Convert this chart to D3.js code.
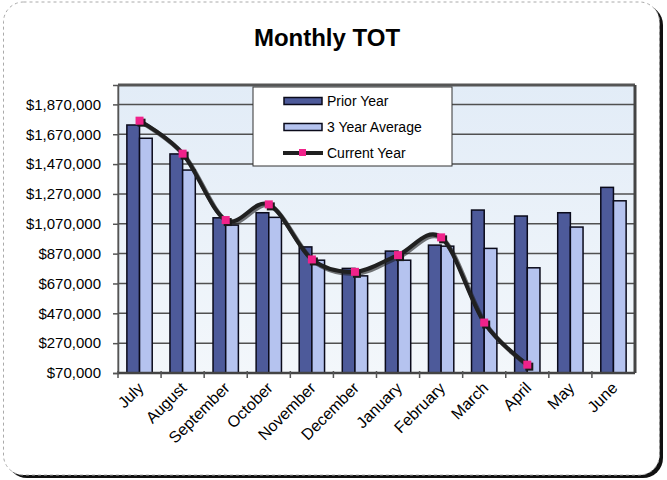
<!DOCTYPE html>
<html>
<head>
<meta charset="utf-8">
<script src="https://cdn.jsdelivr.net/npm/d3@7"></script>
<style>
  html, body { margin: 0; padding: 0; background: #ffffff; }
  svg { display: block; }
  text { font-family: "Liberation Sans", Arial, Helvetica, sans-serif; fill: #000; }
</style>
</head>
<body>
<svg id="chart" width="667" height="480"></svg>
<script>
// ---- data ----
const months = ["July","August","September","October","November","December","January","February","March","April","May","June"];
const priorYear = [1732000,1538000,1110000,1144000,915000,771000,887000,927000,1162000,1122000,1144000,1314000];
const threeYearAvg = [1643000,1430000,1061000,1113000,826000,721000,826000,920000,905000,775000,1048000,1224000];
const currentYear = [1761000,1540000,1095000,1200000,831000,748000,860000,979000,408000,126000,null,null];
const yTicks = [70000,270000,470000,670000,870000,1070000,1270000,1470000,1670000,1870000];
const seriesNames = ["Prior Year","3 Year Average","Current Year"];

// ---- setup ----
const svg = d3.select("#chart");
const plot = {left: 118, right: 635, top: 85, bottom: 373};

// outer frame: shadow + dashed border
svg.append("rect").attr("x", 7).attr("y", 5).attr("width", 656).attr("height", 473)
  .attr("rx", 20).attr("fill", "#111");
svg.append("rect").attr("x", 3.5).attr("y", 2).attr("width", 656).attr("height", 473)
  .attr("rx", 20).attr("fill", "#fff").attr("stroke", "#aaa").attr("stroke-width", 1)
  .attr("stroke-dasharray", "3,3");

// title
svg.append("text").attr("x", 327).attr("y", 46).attr("text-anchor", "middle")
  .style("font-size", "24px").style("font-weight", "bold").text("Monthly TOT");

// scales
const x = d3.scaleBand().domain(months).range([plot.left, plot.right]).padding(0);
const x1 = d3.scaleBand().domain(seriesNames.slice(0, 2)).range([0, x.bandwidth()])
  .paddingInner(0).paddingOuter(0.7);
const y = d3.scaleLinear().domain([70000, 2000000]).range([plot.bottom, plot.top]);

// plot background
const defs = svg.append("defs");
const grad = defs.append("linearGradient").attr("id", "bg").attr("x1", 0).attr("y1", 0).attr("x2", 0).attr("y2", 1);
grad.append("stop").attr("offset", "0%").attr("stop-color", "#e2ecf7");
grad.append("stop").attr("offset", "100%").attr("stop-color", "#f3f7fb");
svg.append("rect").attr("x", plot.left).attr("y", plot.top)
  .attr("width", plot.right - plot.left).attr("height", plot.bottom - plot.top)
  .attr("fill", "url(#bg)");

// gridlines
svg.append("g").selectAll("line").data(yTicks.slice(1)).join("line")
  .attr("x1", plot.left).attr("x2", plot.right)
  .attr("y1", d => y(d)).attr("y2", d => y(d))
  .attr("stroke", "#505050").attr("stroke-width", 1.5);

// plot borders
svg.append("line").attr("x1", plot.left).attr("x2", plot.right).attr("y1", plot.top).attr("y2", plot.top)
  .attr("stroke", "#555").attr("stroke-width", 3);
svg.append("line").attr("x1", plot.right).attr("x2", plot.right).attr("y1", plot.top).attr("y2", plot.bottom)
  .attr("stroke", "#444").attr("stroke-width", 3);
svg.append("line").attr("x1", plot.left).attr("x2", plot.left).attr("y1", plot.top).attr("y2", plot.bottom)
  .attr("stroke", "#888").attr("stroke-width", 1.5);

// bars
const colors = {"Prior Year": "#4d5a9a", "3 Year Average": "#b5c3ef"};
const barData = [];
months.forEach((m, i) => {
  barData.push({m, s: "Prior Year", v: priorYear[i]});
  barData.push({m, s: "3 Year Average", v: threeYearAvg[i]});
});
svg.append("g").selectAll("rect").data(barData).join("rect")
  .attr("x", d => x(d.m) + x1(d.s))
  .attr("width", x1.bandwidth())
  .attr("y", d => y(d.v))
  .attr("height", d => y(70000) - y(d.v))
  .attr("fill", d => colors[d.s])
  .attr("stroke", "#0a0a1a").attr("stroke-width", 1.5);

// axes
const yAxis = d3.axisLeft(y).tickValues(yTicks).tickSize(5).tickPadding(12)
  .tickFormat(d => "$" + d3.format(",")(d));
const gy = svg.append("g").attr("transform", `translate(${plot.left},0)`).call(yAxis);
gy.select(".domain").attr("stroke", "#555").attr("stroke-width", 1.5);
gy.selectAll(".tick line").attr("stroke", "#555").attr("stroke-width", 1.5);
gy.selectAll(".tick text").style("font-size", "15px");

// x axis line + ticks between categories
svg.append("line").attr("x1", plot.left).attr("x2", plot.right).attr("y1", plot.bottom).attr("y2", plot.bottom)
  .attr("stroke", "#444").attr("stroke-width", 2.5);
svg.append("g").selectAll("line").data(months).join("line")
  .attr("x1", d => x(d)).attr("x2", d => x(d))
  .attr("y1", plot.bottom - 2).attr("y2", plot.bottom + 5)
  .attr("stroke", "#555").attr("stroke-width", 1.5);
svg.append("g").selectAll("text").data(months).join("text")
  .attr("transform", d => `translate(${x(d) + x.bandwidth() / 2 + 5},${plot.bottom + 16}) rotate(-45)`)
  .attr("text-anchor", "end")
  .style("font-size", "16px").text(d => d);

// current year line
const lineData = months.map((m, i) => ({m, v: currentYear[i]})).filter(d => d.v != null);
const line = d3.line().x(d => x(d.m) + x.bandwidth() / 2).y(d => y(d.v)).curve(d3.curveCardinal.tension(0));
svg.append("path").datum(lineData).attr("d", line)
  .attr("fill", "none").attr("stroke", "#1c1c1c").attr("stroke-width", 4.5)
  .attr("transform", "translate(1.5,1.5)").attr("opacity", 0.6);
svg.append("path").datum(lineData).attr("d", line)
  .attr("fill", "none").attr("stroke", "#202020").attr("stroke-width", 4);
const mk = svg.append("g").selectAll("g").data(lineData).join("g")
  .attr("transform", d => `translate(${x(d.m) + x.bandwidth() / 2},${y(d.v)})`);
mk.append("rect").attr("x", -2).attr("y", -2).attr("width", 8).attr("height", 8).attr("fill", "#1a1a1a");
mk.append("rect").attr("x", -4).attr("y", -4).attr("width", 8).attr("height", 8).attr("fill", "#f0228a");

// legend
const lg = svg.append("g");
lg.append("rect").attr("x", 253).attr("y", 87).attr("width", 199).attr("height", 79)
  .attr("fill", "#fff").attr("stroke", "#333").attr("stroke-width", 1);
const rowsY = [101, 127, 153];
seriesNames.forEach((s, i) => {
  const yy = rowsY[i];
  if (i < 2) {
    lg.append("rect").attr("x", 284).attr("y", yy - 3.5).attr("width", 38).attr("height", 7)
      .attr("fill", colors[s]).attr("stroke", "#0a0a1a").attr("stroke-width", 1.5);
  } else {
    lg.append("line").attr("x1", 283).attr("x2", 323).attr("y1", yy).attr("y2", yy)
      .attr("stroke", "#202020").attr("stroke-width", 4);
    lg.append("rect").attr("x", 299).attr("y", yy - 4).attr("width", 7).attr("height", 7).attr("fill", "#f0228a");
  }
  lg.append("text").attr("x", 327).attr("y", yy).attr("dy", "0.35em")
    .style("font-size", "14px").text(s);
});
</script>
</body>
</html>
